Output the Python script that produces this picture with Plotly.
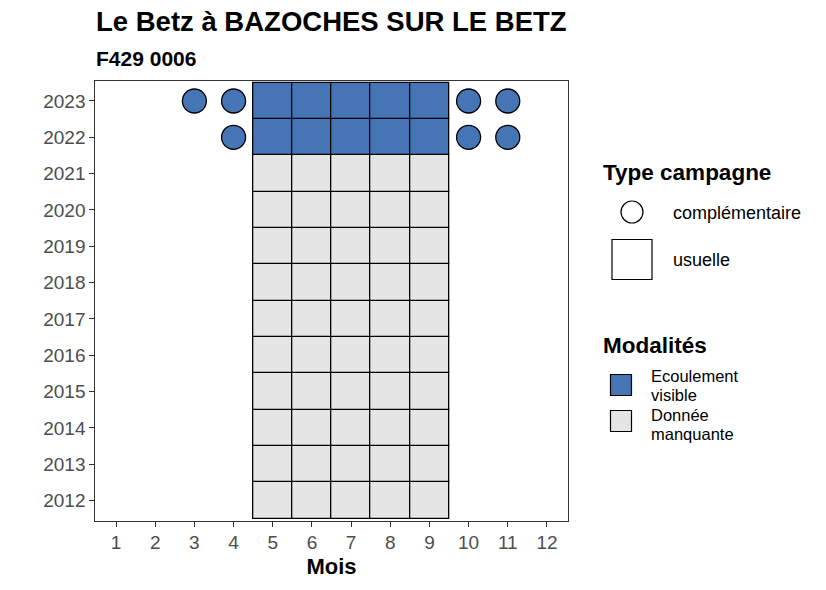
import plotly.graph_objects as go

W, H = 826, 590

# ---- data ----
months = list(range(1, 13))
years = list(range(2012, 2024))
usual_months = [5, 6, 7, 8, 9]
visible_years = [2022, 2023]
missing_years = list(range(2012, 2022))
comp_2023_months = [3, 4, 10, 11]
comp_2022_months = [4, 10, 11]

title_text = "Le Betz à BAZOCHES SUR LE BETZ"
subtitle_text = "F429 0006"
x_title = "Mois"
legend1_title = "Type campagne"
legend1_labels = ["complémentaire", "usuelle"]
legend2_title = "Modalités"
legend2_labels = [["Ecoulement", "visible"], ["Donnée", "manquante"]]

BLUE = "#4575b4"
GREY = "#e5e5e5"
FONT = "Liberation Sans"

def tiles(year_list):
    xs, bases = [], []
    for y in year_list:
        for m in usual_months:
            xs.append(m)
            bases.append(y - 0.5)
    return xs, bases

fig = go.Figure()

xs, bs = tiles(missing_years)
fig.add_trace(go.Bar(x=xs, y=[1] * len(xs), base=bs, width=1,
                     marker=dict(color=GREY, line=dict(color="black", width=1.3)),
                     showlegend=False, hoverinfo="skip"))
xs, bs = tiles(visible_years)
fig.add_trace(go.Bar(x=xs, y=[1] * len(xs), base=bs, width=1,
                     marker=dict(color=BLUE, line=dict(color="black", width=1.3)),
                     showlegend=False, hoverinfo="skip"))

cx = comp_2023_months + comp_2022_months
cy = [2023] * len(comp_2023_months) + [2022] * len(comp_2022_months)
fig.add_trace(go.Scatter(x=cx, y=cy, mode="markers",
                         marker=dict(symbol="circle", size=24, color=BLUE,
                                     line=dict(color="black", width=1.3)),
                         showlegend=False, hoverinfo="skip"))

# ---- legend drawn on a pixel overlay axis ----
fig.add_trace(go.Scatter(x=[632], y=[212], mode="markers", xaxis="x2", yaxis="y2",
                         marker=dict(symbol="circle", size=22, color="white",
                                     line=dict(color="black", width=1.2)),
                         showlegend=False, hoverinfo="skip"))
fig.add_trace(go.Scatter(x=[632], y=[259.5], mode="markers", xaxis="x2", yaxis="y2",
                         marker=dict(symbol="square", size=40, color="white",
                                     line=dict(color="black", width=1.2)),
                         showlegend=False, hoverinfo="skip"))
fig.add_trace(go.Scatter(x=[621, 621], y=[385, 421], mode="markers", xaxis="x2", yaxis="y2",
                         marker=dict(symbol="square", size=21, color=[BLUE, GREY],
                                     line=dict(color="black", width=1.2)),
                         showlegend=False, hoverinfo="skip"))

ann = []
def px(x, y, text, size, bold=False, xanchor="left", yanchor="middle", color="black"):
    ann.append(dict(x=x / W, y=1 - y / H, xref="paper", yref="paper", text=(f"<b>{text}</b>" if bold else text),
                    showarrow=False, xanchor=xanchor, yanchor=yanchor, align="left",
                    font=dict(family=FONT, size=size, color=color)))

px(94, 22, title_text, 27.5, bold=True)
px(94, 58, subtitle_text, 21, bold=True)
px(601, 173, legend1_title, 22.5, bold=True)
px(671, 213, legend1_labels[0], 18)
px(671, 260, legend1_labels[1], 18)
px(601, 345, legend2_title, 22.5, bold=True)
px(649, 376, legend2_labels[0][0], 16.5)
px(649, 395, legend2_labels[0][1], 16.5)
px(649, 414.5, legend2_labels[1][0], 16.5)
px(649, 433.5, legend2_labels[1][1], 16.5)

fig.update_layout(
    width=W, height=H,
    margin=dict(l=0, r=0, t=0, b=0),
    paper_bgcolor="white", plot_bgcolor="rgba(0,0,0,0)",
    barmode="overlay", bargap=0,
    font=dict(family=FONT),
    annotations=ann,
    xaxis=dict(domain=[95.3 / W, 567.7 / W], range=[0.47, 12.53], tickvals=months,
               ticks="outside", ticklen=5, tickcolor="#333", tickwidth=1.2,
               showline=True, mirror=True, linecolor="#333", linewidth=1,
               showgrid=False, zeroline=False,
               tickfont=dict(size=19, color="#4d4d4d", family=FONT),
               title=dict(text=f"<b>{x_title}</b>", font=dict(size=22, color="black", family=FONT), standoff=6)),
    yaxis=dict(domain=[1 - 520.5 / H, 1 - 81 / H], range=[2011.45, 2023.55], tickvals=years,
               ticks="outside", ticklen=5, tickcolor="#333", tickwidth=1.2,
               showline=True, mirror=True, linecolor="#333", linewidth=1,
               showgrid=False, zeroline=False,
               tickfont=dict(size=19, color="#4d4d4d", family=FONT)),
    xaxis2=dict(domain=[0, 1], range=[0, W], visible=False, anchor="y2", fixedrange=True),
    yaxis2=dict(domain=[0, 1], range=[H, 0], visible=False, anchor="x2", fixedrange=True),
)

fig.write_html("out.html")
